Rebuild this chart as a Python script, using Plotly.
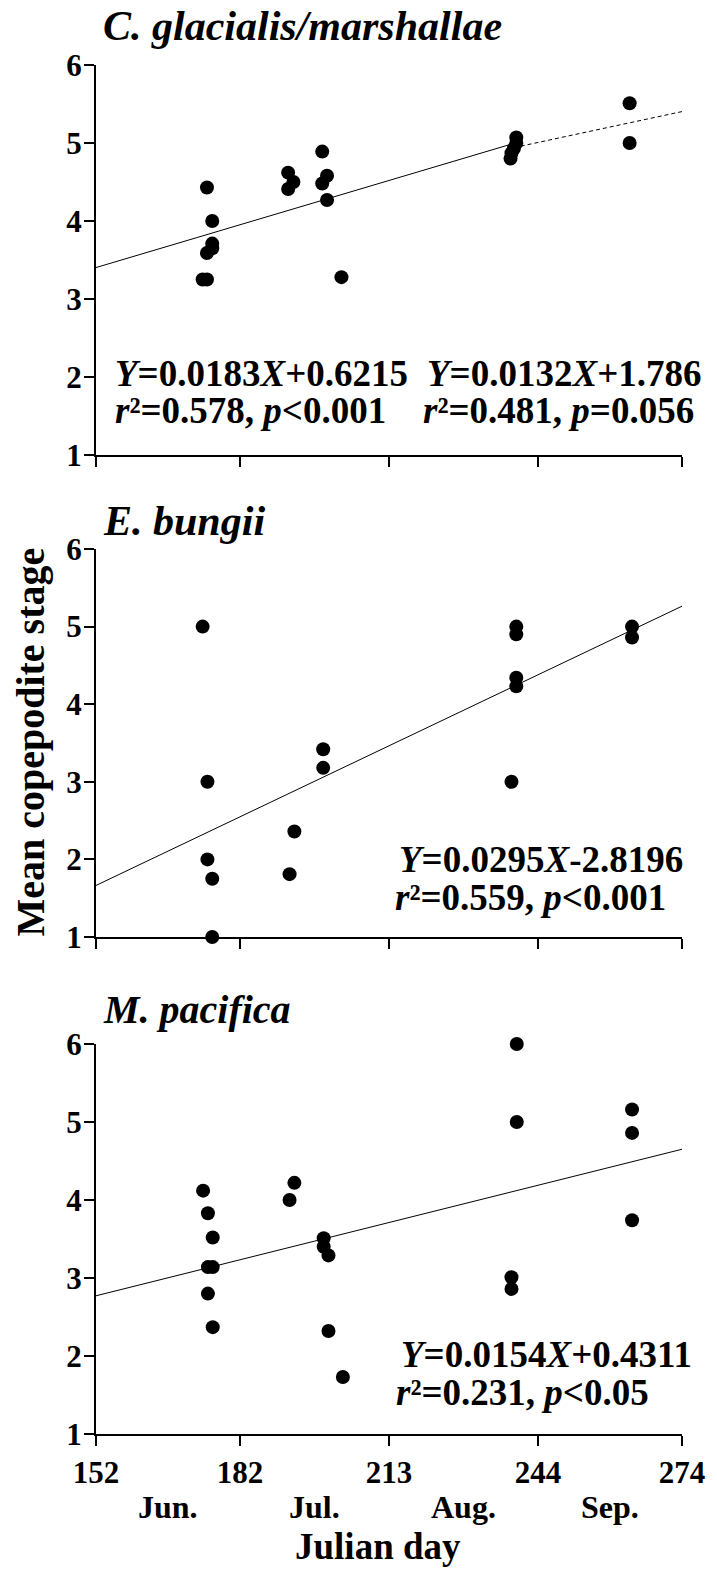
import plotly.graph_objects as go

# ---------------- data ----------------
cg_day = [175.1, 176.2, 176.2, 176.2, 175.1, 174.2, 175.1,
          192.0, 193.1, 192.0, 199.1, 200.1, 199.1, 200.1, 203.1,
          239.5, 239.5, 239.0, 238.5, 238.3, 263.1, 263.1]
cg_stage = [4.43, 4.00, 3.71, 3.65, 3.59, 3.25, 3.25,
            4.62, 4.50, 4.41, 4.89, 4.58, 4.48, 4.27, 3.28,
            5.07, 5.00, 4.93, 4.87, 4.80, 5.51, 5.00]

eb_day = [174.2, 175.2, 175.2, 176.2, 176.2, 193.3, 192.3, 199.3, 199.3,
          239.5, 239.5, 239.5, 239.5, 238.5, 263.6, 263.6]
eb_stage = [5.0, 3.0, 2.0, 1.75, 1.0, 2.36, 1.81, 3.42, 3.18,
            5.0, 4.9, 4.34, 4.23, 3.0, 5.0, 4.86]

mp_day = [174.3, 175.3, 176.3, 175.3, 176.3, 175.3, 176.3, 193.3, 192.3,
          199.4, 199.4, 200.4, 200.4, 203.4, 239.6, 239.6, 238.5, 238.5,
          263.6, 263.6, 263.6]
mp_stage = [4.12, 3.83, 3.52, 3.14, 3.14, 2.80, 2.37, 4.22, 4.0,
            3.51, 3.40, 3.29, 2.32, 1.73, 6.0, 5.0, 3.01, 2.86,
            5.16, 4.86, 3.74]

# regression fits: (slope, intercept, x_start, x_end)
cg_fit1 = (0.0183, 0.6215, 152, 239)
cg_fit2 = (0.0132, 1.786, 239, 274)
eb_fit = (0.0295, -2.8196, 152, 274)
mp_fit = (0.0154, 0.4311, 152, 274)

tick_days = [152, 182, 213, 244, 274]
month_labels = ["Jun.", "Jul.", "Aug.", "Sep."]
month_mid = [167, 197.5, 228.5, 259]

titles = ["C. glacialis/marshallae", "E. bungii", "M. pacifica"]

# ---------------- layout geometry ----------------
W, H = 717, 1571
L, R, T, B = 96, 30, 65, 137
pw = W - L - R
ph = H - T - B
def py(p):  # pixel y -> paper
    return (H - B - p) / ph
def px(p):  # pixel x -> paper
    return (p - L) / pw

FONT = "Liberation Serif"
fig = go.Figure()

def add_points(xs, ys, axn):
    fig.add_trace(go.Scatter(x=xs, y=ys, mode="markers",
                             marker=dict(color="black", size=14),
                             cliponaxis=False, showlegend=False,
                             xaxis="x" + axn, yaxis="y" + axn))

def add_fit(fit, axn, dash="solid"):
    a, b, x0, x1 = fit
    fig.add_trace(go.Scatter(x=[x0, x1], y=[a * x0 + b, a * x1 + b], mode="lines",
                             line=dict(color="black", width=1, dash=dash),
                             showlegend=False, xaxis="x" + axn, yaxis="y" + axn))

add_fit(cg_fit1, "")
add_fit(cg_fit2, "", dash="4px,3px")
add_points(cg_day, cg_stage, "")
add_fit(eb_fit, "2")
add_points(eb_day, eb_stage, "2")
add_fit(mp_fit, "3")
add_points(mp_day, mp_stage, "3")

domains = [(py(455), py(65)), (py(937), py(549)), (py(1434), py(1044))]

axis_common = dict(showline=True, linecolor="black", linewidth=2, ticks="outside",
                   ticklen=10, tickwidth=2, tickcolor="black", showgrid=False,
                   zeroline=False,
                   tickfont=dict(family=FONT, size=31, color="black", weight="bold"))

lay = {}
for i, (d0, d1) in enumerate(domains):
    sfx = "" if i == 0 else str(i + 1)
    lay["xaxis" + sfx] = dict(axis_common, domain=[0, 1], range=[152, 274],
                              tickvals=tick_days, showticklabels=(i == 2),
                              anchor="y" + sfx)
    lay["yaxis" + sfx] = dict(axis_common, domain=[d0, d1], range=[1, 6],
                              tickvals=[1, 2, 3, 4, 5, 6], anchor="x" + sfx,
                              ticklabelstandoff=-4)

fig.update_layout(width=W, height=H, margin=dict(l=L, r=R, t=T, b=B),
                  plot_bgcolor="white", paper_bgcolor="white",
                  font=dict(family=FONT, color="black"), **lay)

ann = []
title_y = [26, 521, 1010]
title_size = [42, 42, 40]
for t, yy, fs in zip(titles, title_y, title_size):
    ann.append(dict(text="<b><i>%s</i></b>" % t, xref="paper", yref="paper",
                    x=px(101), y=py(yy), xanchor="left", yanchor="middle",
                    showarrow=False, font=dict(family=FONT, size=fs, color="black")))

EQ = 37
def eq(line1, line2, xl1, xl2, y1, y2):
    ann.append(dict(text="<b>%s</b>" % line1, xref="paper", yref="paper",
                    x=px(xl1), y=py(y1), xanchor="left", yanchor="middle",
                    showarrow=False, font=dict(family=FONT, size=EQ, color="black")))
    ann.append(dict(text="<b>%s</b>" % line2, xref="paper", yref="paper",
                    x=px(xl2), y=py(y2), xanchor="left", yanchor="middle",
                    showarrow=False, font=dict(family=FONT, size=EQ, color="black")))

eq("<i>Y</i>=0.0183<i>X</i>+0.6215", "<i>r</i>²=0.578, <i>p</i>&lt;0.001",
   113, 113, 373, 411)
eq("<i>Y</i>=0.0132<i>X</i>+1.786", "<i>r</i>²=0.481, <i>p</i>=0.056",
   428, 424, 373, 411)
eq("<i>Y</i>=0.0295<i>X</i>-2.8196", "<i>r</i>²=0.559, <i>p</i>&lt;0.001",
   400, 396, 859, 897)
eq("<i>Y</i>=0.0154<i>X</i>+0.4311", "<i>r</i>²=0.231, <i>p</i>&lt;0.05",
   402, 397, 1354, 1392)

for m, xm in zip(month_labels, month_mid):
    ann.append(dict(text="<b>%s</b>" % m, xref="x3", yref="paper", x=xm, y=py(1507),
                    xanchor="center", yanchor="middle", showarrow=False,
                    font=dict(family=FONT, size=32, color="black")))

ann.append(dict(text="<b>Julian day</b>", xref="paper", yref="paper", x=px(380),
                y=py(1546), xanchor="center", yanchor="middle", showarrow=False,
                font=dict(family=FONT, size=37, color="black")))
ann.append(dict(text="<b>Mean copepodite stage</b>", xref="paper", yref="paper",
                x=px(29), y=py(742), xanchor="center", yanchor="middle",
                textangle=-90, showarrow=False,
                font=dict(family=FONT, size=40, color="black")))

fig.update_layout(annotations=ann)
fig.write_html("out.html")
